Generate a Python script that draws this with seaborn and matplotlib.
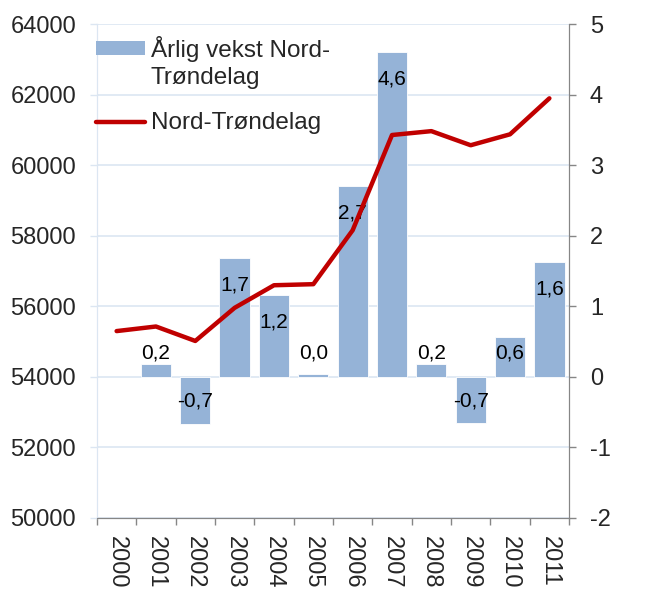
import numpy as np
import pandas as pd
import matplotlib
matplotlib.use("Agg")
import matplotlib.pyplot as plt
from matplotlib.patches import Patch, Rectangle
from matplotlib.lines import Line2D
from matplotlib.legend_handler import HandlerPatch
import seaborn as sns

# data
years = ["2000", "2001", "2002", "2003", "2004", "2005",
         "2006", "2007", "2008", "2009", "2010", "2011"]
growth = [np.nan, 0.18, -0.67, 1.68, 1.16, 0.04, 2.71, 4.61, 0.19, -0.66, 0.56, 1.63]
population = [55300, 55430, 55020, 55960, 56600, 56630,
              58160, 60860, 60970, 60570, 60880, 61900]
left_ticks = [50000, 52000, 54000, 56000, 58000, 60000, 62000, 64000]
right_ticks = [-2, -1, 0, 1, 2, 3, 4, 5]

bar_name = "Årlig vekst Nord-\nTrøndelag"
line_name = "Nord-Trøndelag"

BAR_COLOR = "#95b3d7"
LINE_COLOR = "#c00000"
GRID_COLOR = "#dce6f2"
AXIS_GRAY = "#868686"
FS = 17


class TopPatchHandler(HandlerPatch):
    """Put the legend patch next to the first line of a two-line label."""
    def create_artists(self, legend, orig_handle, xdescent, ydescent,
                       width, height, fontsize, trans):
        p = Rectangle((-xdescent, -ydescent + 0.58 * fontsize), width, height,
                      facecolor=orig_handle.get_facecolor(), edgecolor="none",
                      transform=trans)
        return [p]


sns.set_style("white")
plt.rcParams["font.family"] = ["Liberation Sans", "DejaVu Sans"]
plt.rcParams["axes.unicode_minus"] = False

df = pd.DataFrame({"year": years, "growth": growth, "population": population})

fig = plt.figure(figsize=(6.64, 5.92), dpi=100)
ax = fig.add_axes([0.146, 0.125, 0.711, 0.834])

# bars (growth %) on the right-hand axis
sns.barplot(data=df.dropna(subset=["growth"]), x="year", y="growth", order=years,
            color=BAR_COLOR, saturation=1, width=0.77, errorbar=None,
            edgecolor="white", linewidth=0.6, ax=ax)
ax.set_ylim(-2, 5)
ax.set_yticks(right_ticks)
ax.set_axisbelow(True)
ax.yaxis.grid(True, color=GRID_COLOR, linewidth=1.2)
ax.set_xlim(-0.5, len(years) - 0.5)

# value labels, "inside end" style
for i, v in enumerate(growth):
    if np.isnan(v):
        continue
    if v >= 0:
        y = max(v - 0.38, 0.34)
    else:
        y = min(v + 0.38, -0.34)
    ax.text(i, y, f"{v:.1f}".replace(".", ","), ha="center", va="center",
            fontsize=15, color="black")

# line (population) on the left-hand axis
ax2 = ax.twinx()
sns.lineplot(x=np.arange(len(years)), y=population, color=LINE_COLOR,
             linewidth=3.2, ax=ax2)
ax2.set_ylim(50000, 64000)
ax2.set_yticks(left_ticks)
ax2.set_xlim(-0.5, len(years) - 0.5)

# axes styling
for a in (ax, ax2):
    a.spines["top"].set_visible(False)
    a.spines["left"].set_color(GRID_COLOR)
    a.spines["right"].set_color(AXIS_GRAY)
    a.spines["bottom"].set_color(AXIS_GRAY)
    a.set_xlabel("")
    a.set_ylabel("")

ax.tick_params(axis="y", which="major", right=True, left=False,
               labelright=True, labelleft=False, direction="out",
               length=5, width=1, color=AXIS_GRAY, pad=10, labelsize=FS)
ax2.tick_params(axis="y", which="major", left=True, right=False,
                labelleft=True, labelright=False, direction="out",
                length=5, width=1, color=GRID_COLOR, pad=10, labelsize=FS)

ax.set_xticks(range(len(years)))
ax.set_xticklabels(years, rotation=270, fontsize=FS)
ax.set_xticks(np.arange(-0.5, len(years)), minor=True)
ax.tick_params(axis="x", which="major", length=0, pad=13)
ax.tick_params(axis="x", which="minor", bottom=True, direction="out",
               length=5, width=1, color=AXIS_GRAY)
ax2.tick_params(axis="x", which="both", bottom=False, labelbottom=False)

bar_handle = Patch(facecolor=BAR_COLOR, edgecolor="none")
line_handle = Line2D([], [], color=LINE_COLOR, linewidth=3.2)
leg = ax2.legend([bar_handle, line_handle], [bar_name, line_name], loc="upper left",
                 bbox_to_anchor=(-0.012, 0.987), frameon=False, fontsize=FS + 0.5,
                 handlelength=2.0, handleheight=0.55, handletextpad=0.25,
                 borderpad=0.2, labelspacing=0.98, borderaxespad=0,
                 handler_map={Patch: TopPatchHandler()})
for t in leg.get_texts():
    t.set_linespacing(1.3)

fig.savefig("out.png", dpi=100)
